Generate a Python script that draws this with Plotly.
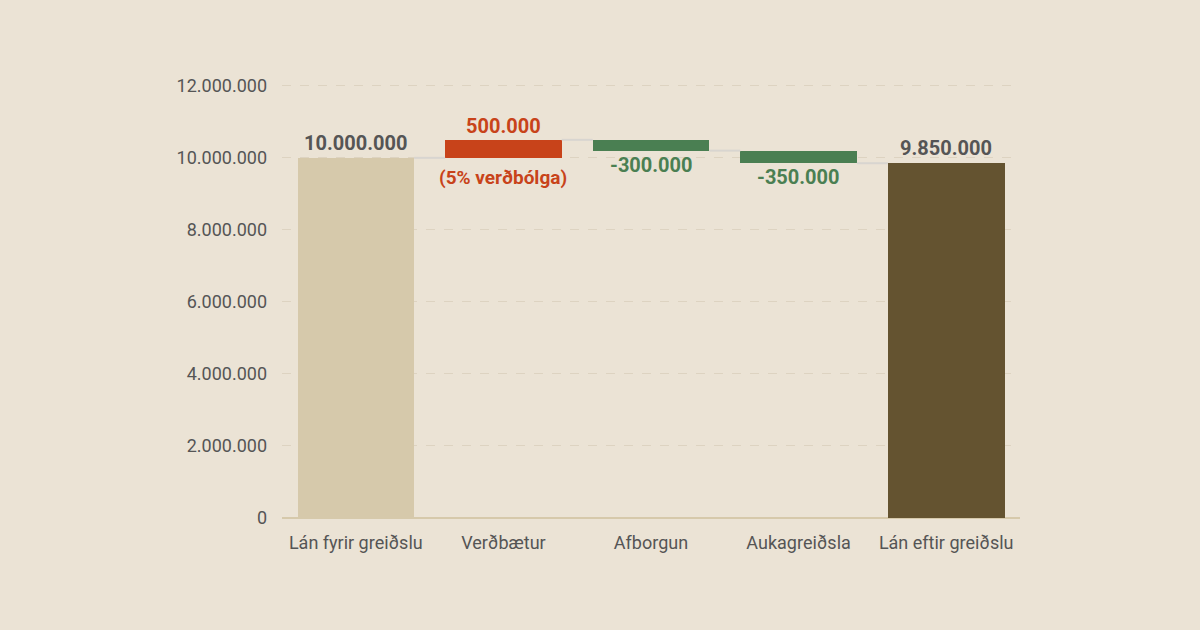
import plotly.graph_objects as go

categories = ["Lán fyrir greiðslu", "Verðbætur", "Afborgun", "Aukagreiðsla", "Lán eftir greiðslu"]
start_value = 10000000
changes = [500000, -300000, -350000]
change_notes = ["(5% verðbólga)", "", ""]
y_ticks = [0, 2000000, 4000000, 6000000, 8000000, 10000000, 12000000]

BG = "#EBE3D5"
START_C = "#D6C9AB"
END_C = "#645330"
UP_C = "#C8431A"
DOWN_C = "#4A7F52"
TXT = "#555555"
CONN = "#D8D5D0"
W = 0.79

def fmt(v):
    s = f"{abs(v):,}".replace(",", ".")
    return ("-" if v < 0 else "") + s

end_value = start_value + sum(changes)
bases = [0]
heights = [start_value]
colors = [START_C]
level = start_value
levels = [start_value]
for c in changes:
    bases.append(min(level, level + c))
    heights.append(abs(c))
    colors.append(UP_C if c > 0 else DOWN_C)
    level += c
    levels.append(level)
bases.append(0)
heights.append(end_value)
colors.append(END_C)

xs = list(range(len(categories)))
fig = go.Figure()

for i in range(len(categories) - 1):
    fig.add_trace(go.Scatter(
        x=[i + W / 2, i + 1 - W / 2], y=[levels[i], levels[i]],
        mode="lines", line=dict(color=CONN, width=2), hoverinfo="skip", showlegend=False))

fig.add_trace(go.Bar(x=xs, y=heights, base=bases, width=W,
                     marker=dict(color=colors, line=dict(width=0)),
                     hoverinfo="skip", showlegend=False))

ann = []
ann.append(dict(x=0, y=start_value, text=f"<b>{fmt(start_value)}</b>", yshift=15,
                font=dict(color=TXT, size=20)))
ann.append(dict(x=len(categories) - 1, y=end_value, text=f"<b>{fmt(end_value)}</b>", yshift=15,
                font=dict(color=TXT, size=20)))
for k, c in enumerate(changes):
    i = k + 1
    col = UP_C if c > 0 else DOWN_C
    top = bases[i] + heights[i]
    bot = bases[i]
    if c > 0:
        ann.append(dict(x=i, y=top, text=f"<b>{fmt(c)}</b>", yshift=14, font=dict(color=col, size=20)))
    else:
        ann.append(dict(x=i, y=bot, text=f"<b>{fmt(c)}</b>", yshift=-14, font=dict(color=col, size=20)))
    if change_notes[k]:
        ann.append(dict(x=i, y=bot, text=f"<b>{change_notes[k]}</b>", yshift=-20,
                        font=dict(color=col, size=19)))
for a in ann:
    a.update(xref="x", yref="y", showarrow=False, font_family="Roboto")

fig.update_layout(
    width=1200, height=630,
    paper_bgcolor=BG, plot_bgcolor=BG,
    margin=dict(l=282, r=180, t=84, b=112),
    separators=",.",
    font=dict(family="Roboto", color=TXT, size=18),
    annotations=ann,
    bargap=0,
    xaxis=dict(tickvals=xs, ticktext=categories, range=[-0.5, len(categories) - 0.5],
               showgrid=False, zeroline=False, showline=False, ticks="",
               ticklabelstandoff=12, tickfont=dict(size=18, color=TXT)),
    yaxis=dict(range=[0, 12050000], tickvals=y_ticks,
               ticktext=[fmt(v) for v in y_ticks],
               showgrid=True, gridcolor="#DDD3C1", griddash="dash", gridwidth=1,
               zeroline=True, zerolinecolor="#D6C9AB", zerolinewidth=2,
               showline=False, ticks="", ticklabelstandoff=14,
               tickfont=dict(size=18, color=TXT)),
)

fig.write_html("out.html", config={"displayModeBar": False},
               post_script="document.body.style.margin='0';")
